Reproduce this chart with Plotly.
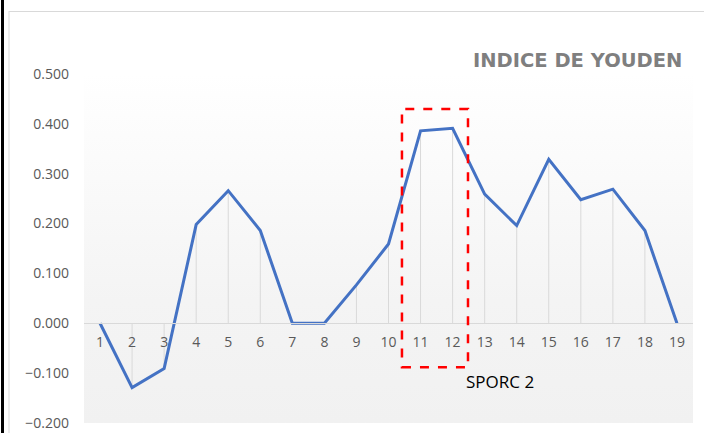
import plotly.graph_objects as go

# Youden index per test
tests = list(range(1, 20))
youden = [0.000, -0.129, -0.091, 0.198, 0.266, 0.186, 0.000, 0.000, 0.077, 0.159,
          0.386, 0.391, 0.259, 0.196, 0.329, 0.248, 0.269, 0.186, 0.000]
tick_labels = [str(t) for t in tests]

# highlighted group
sporc_label = "SPORC 2"
sporc_x = [10.42, 12.48]
sporc_y = [-0.088, 0.43]

y_min, y_max = -0.2, 0.5
x_min, x_max = 0.5, 19.5

W, H = 704, 433
L, R, T, B = 84, 11, 74, 10

fig = go.Figure()

# gradient plot background
fig.add_trace(go.Scatter(
    x=[x_min, x_max, x_max, x_min, x_min],
    y=[y_min, y_min, y_max, y_max, y_min],
    mode='lines', line=dict(width=0), fill='toself',
    fillgradient=dict(type='vertical',
                      colorscale=[[0, '#f1f1f1'], [0.35, '#f4f4f4'], [1, '#ffffff']]),
    hoverinfo='skip', showlegend=False
))

# drop lines from each point to the axis
drop_x, drop_y = [], []
for t, v in zip(tests, youden):
    drop_x += [t, t, None]
    drop_y += [0, v, None]
fig.add_trace(go.Scatter(
    x=drop_x, y=drop_y, mode='lines',
    line=dict(color='#d9d9d9', width=1),
    hoverinfo='skip', showlegend=False
))

fig.add_trace(go.Scatter(
    x=tests, y=youden, mode='lines',
    line=dict(color='#4472C4', width=3),
    name='Youden', showlegend=False
))

# dashed box around the SPORC 2 group
fig.add_shape(type='rect', xref='x', yref='y',
              x0=sporc_x[0], x1=sporc_x[1], y0=sporc_y[0], y1=sporc_y[1],
              line=dict(color='#ff0000', width=2.5, dash='dash'))
fig.add_annotation(x=sporc_x[1], y=-0.117, xref='x', yref='y', text=sporc_label,
                   showarrow=False, xanchor='left', yanchor='middle', xshift=-4,
                   font=dict(family='Open Sans', size=17, color='#000000'))

# chart title
fig.add_annotation(x=(684 - L) / (W - L - R), y=(H - B - 60) / (H - T - B),
                   xref='paper', yref='paper', text='<b>INDICE DE YOUDEN</b>',
                   showarrow=False, xanchor='right', yanchor='middle',
                   font=dict(family='DejaVu Sans', size=19.5, color='#7f7f7f'))

# chart border and the outer black edge
pw, ph = W - L - R, H - T - B
def px_x(p):
    return (p - L) / pw
def px_y(p):
    return (H - B - p) / ph
fig.add_shape(type='line', xref='paper', yref='paper',
              x0=px_x(9), x1=px_x(9), y0=px_y(11), y1=px_y(H + 5),
              line=dict(color='#d9d9d9', width=1))
fig.add_shape(type='line', xref='paper', yref='paper',
              x0=px_x(9), x1=px_x(W + 5), y0=px_y(11.5), y1=px_y(11.5),
              line=dict(color='#d9d9d9', width=1))
fig.add_shape(type='line', xref='paper', yref='paper',
              x0=px_x(2.5), x1=px_x(2.5), y0=px_y(-5), y1=px_y(H + 5),
              line=dict(color='#000000', width=3))

fig.update_layout(
    width=W, height=H,
    margin=dict(l=L, r=R, t=T, b=B, autoexpand=False),
    paper_bgcolor='white', plot_bgcolor='rgba(0,0,0,0)',
    font=dict(family='Open Sans', size=14, color='#595959'),
    xaxis=dict(range=[x_min, x_max], tickvals=tests, ticktext=tick_labels,
               anchor='free', position=(0 - y_min) / (y_max - y_min),
               showline=True, linecolor='#d9d9d9', linewidth=1, automargin=False,
               showgrid=False, zeroline=False, ticks='', ticklabelstandoff=6),
    yaxis=dict(range=[y_min, y_max], dtick=0.1, tick0=0, tickformat='.3f',
               showgrid=False, zeroline=False, showline=False, ticks='',
               automargin=False, ticklabelstandoff=14),
)

fig.write_html("out.html", config={'displayModeBar': False},
               post_script="document.body.style.margin='0';document.body.style.overflow='hidden';")
